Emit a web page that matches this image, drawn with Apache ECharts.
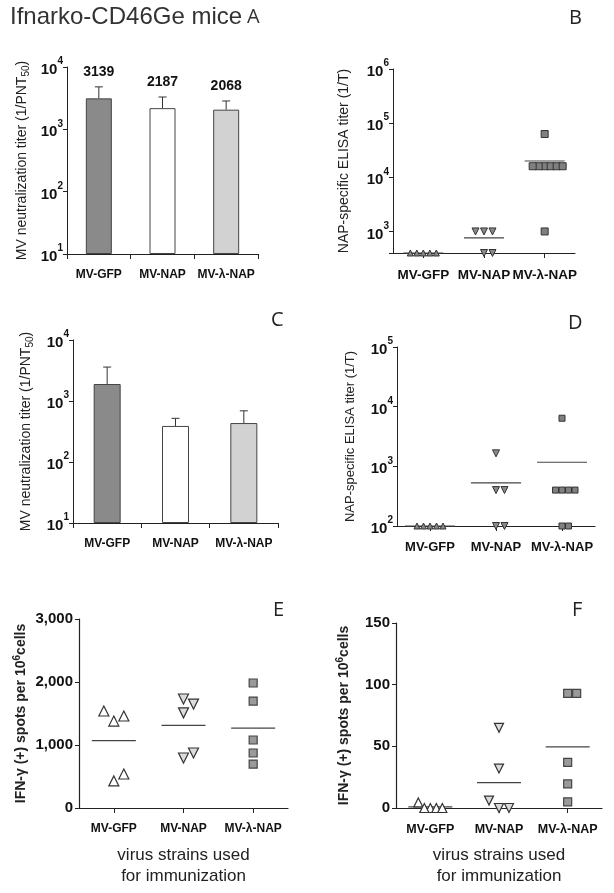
<!DOCTYPE html>
<html><head><meta charset="utf-8">
<script src="https://cdn.jsdelivr.net/npm/echarts@6/dist/echarts.min.js"></script>
<style>html,body{margin:0;padding:0;background:#fff}#c{width:614px;height:893px}</style>
</head><body><div id="c"></div>
<script>
// ---------- data ----------
const categories = ['MV-GFP', 'MV-NAP', 'MV-λ-NAP'];
// Panel A (bars, log axis)
const aBarValues = [3139, 2187, 2068];
const aErrorTop = [4800, 3300, 2850];
const aTickExponents = [1, 2, 3, 4];
// Panel C (bars, log axis)
const cBarValues = [1900, 390, 435];
const cErrorTop = [3600, 520, 690];
const cTickExponents = [1, 2, 3, 4];
// Panel B (scatter, log axis)
const bGFP = [400, 400, 400, 400, 400];
const bNAP = [1000, 1000, 1000, 400, 400];
const bLambda = [63000, 16000, 16000, 16000, 16000, 16000, 16000, 1000];
const bTickExponents = [3, 4, 5, 6];
const bAxisMin = 400;
// Panel D (scatter, log axis)
const dGFP = [100, 100, 100, 100, 100];
const dNAP = [1650, 400, 400, 100, 100];
const dLambda = [6400, 400, 400, 400, 400, 100, 100];
const dTickExponents = [2, 3, 4, 5];
// Panel E (scatter, linear)
const eGFP = [1460, 1380, 1540, 430, 540];
const eNAP = [1650, 1730, 1510, 794, 873];
const eLambda = [1984, 1698, 1079, 873, 698];
const eTicks = [0, 1000, 2000, 3000];
// Panel F (scatter, linear)
const fGFP = [4.5, 0, 0, 0, 0];
const fNAP = [65, 32, 6, 0, 0];
const fLambda = [93, 93, 37, 19.5, 5];
const fTicks = [0, 50, 100, 150];

// ---------- styling ----------
const FONT = 'Liberation Sans, Arial, sans-serif';
const AX = '#222';
const barColors = ['#8a8a8a', '#ffffff', '#d2d2d2'];

const chart = echarts.init(document.getElementById('c'), null, {renderer: 'canvas'});

function logLabel(size, sup) {
  return {
    margin: 4,
    formatter: v => {
      const l = Math.log10(v), e = Math.round(l);
      if (Math.abs(l - e) > 1e-6) return '';
      return '{b|10}{s|' + e + '}';
    },
    rich: {
      b: {fontSize: size, fontWeight: 'bold', fontFamily: FONT, color: '#111', lineHeight: size + 6, verticalAlign: 'bottom'},
      s: {fontSize: sup, fontWeight: 'bold', fontFamily: FONT, color: '#111', lineHeight: sup + 2, verticalAlign: 'top'}
    }
  };
}
function nameStyle(size, bold) {
  const w = bold ? 'bold' : 'normal';
  return {
    rich: {
      n: {fontSize: size, fontWeight: w, fontFamily: FONT, color: '#222', lineHeight: size + 4, verticalAlign: 'middle'},
      sub: {fontSize: size - 4, fontWeight: w, fontFamily: FONT, color: '#222', verticalAlign: 'bottom', lineHeight: size + 2},
      sup: {fontSize: size - 4, fontWeight: w, fontFamily: FONT, color: '#222', verticalAlign: 'top', lineHeight: size + 2}
    }
  };
}
function yLog(grid, exps, min, name, nameGap, nameSize, labelSize) {
  return {
    type: 'log', logBase: 10, gridIndex: grid,
    min: min != null ? min : Math.pow(10, exps[0]), max: Math.pow(10, exps[exps.length - 1]),
    startValue: min != null ? min : Math.pow(10, exps[0]),
    name, nameLocation: 'middle', nameGap, nameRotate: 90, nameTextStyle: nameStyle(nameSize, false),
    axisLine: {show: true, onZero: false, lineStyle: {color: AX, width: 1}},
    axisTick: {show: true, length: 4, lineStyle: {color: AX}},
    minorTick: {show: false}, splitLine: {show: false},
    axisLabel: logLabel(labelSize, 10)
  };
}
function yLin(grid, ticks, name, nameGap) {
  return {
    type: 'value', gridIndex: grid, min: ticks[0], max: ticks[ticks.length - 1], interval: ticks[1] - ticks[0],
    name, nameLocation: 'middle', nameGap, nameRotate: 90, nameTextStyle: nameStyle(14, true),
    axisLine: {show: true, onZero: false, lineStyle: {color: AX, width: 1.2}},
    axisTick: {show: true, length: 4, lineStyle: {color: AX}},
    splitLine: {show: false},
    axisLabel: {margin: 6, fontSize: 15, fontWeight: 'bold', fontFamily: FONT, color: '#111',
      formatter: v => v.toLocaleString('en-US')}
  };
}
function xCat(grid, fontSize, align, withName) {
  const ax = {
    type: 'category', gridIndex: grid, data: categories, boundaryGap: true,
    axisLine: {show: true, onZero: false, lineStyle: {color: AX, width: 1.2}},
    axisTick: {show: true, alignWithLabel: align, length: 5, interval: 0, lineStyle: {color: AX}},
    axisLabel: {fontSize, fontWeight: 'bold', fontFamily: FONT, color: '#111', margin: 15, interval: 0},
    splitLine: {show: false}
  };
  if (withName) {
    ax.name = 'virus strains used\nfor immunization';
    ax.nameLocation = 'middle';
    ax.nameGap = 37;
    ax.nameTextStyle = {fontSize: 17, fontFamily: FONT, color: '#222', lineHeight: 21};
  }
  return ax;
}
function barSeries(grid, values, width) {
  return {
    type: 'bar', xAxisIndex: grid, yAxisIndex: grid, barWidth: width, clip: true, z: 2,
    data: values.map((v, i) => ({value: v, itemStyle: {color: barColors[i]}})),
    itemStyle: {borderColor: '#444', borderWidth: 1}
  };
}
function errSeries(grid, values, tops, labels) {
  return {
    type: 'custom', xAxisIndex: grid, yAxisIndex: grid, z: 1, silent: true,
    data: values.map((v, i) => [i, v, tops[i]]),
    renderItem: (params, api) => {
      const b = api.coord([api.value(0), api.value(1)]);
      const t = api.coord([api.value(0), api.value(2)]);
      const ch = [
        {type: 'line', shape: {x1: b[0], y1: b[1], x2: t[0], y2: t[1]}, style: {stroke: '#333', lineWidth: 1}},
        {type: 'line', shape: {x1: t[0] - 4, y1: t[1], x2: t[0] + 4, y2: t[1]}, style: {stroke: '#333', lineWidth: 1}}
      ];
      if (labels) ch.push({type: 'text', x: t[0], y: t[1] - 15,
        style: {text: String(values[params.dataIndex]), font: 'bold 14px Liberation Sans', fill: '#111', align: 'center', verticalAlign: 'middle'}});
      return {type: 'group', children: ch};
    }
  };
}
function meanSeries(grid, groups, hw) {
  return {
    type: 'custom', xAxisIndex: grid, yAxisIndex: grid, z: 1, silent: true,
    data: groups.map((g, i) => [i, g.reduce((a, b) => a + b, 0) / g.length]),
    renderItem: (params, api) => {
      const c = api.coord([api.value(0), api.value(1)]);
      return {type: 'line', shape: {x1: c[0] - hw, y1: c[1], x2: c[0] + hw, y2: c[1]}, style: {stroke: '#444', lineWidth: 1.2}};
    }
  };
}
const swarmSpecs = [];
function scatter(id, grid, ci, values, symbol, size, style, rotate, d) {
  swarmSpecs.push({id, grid, ci, values, d, h: size + 1.5});
  return {
    id, type: 'scatter', xAxisIndex: grid, yAxisIndex: grid, z: 3, symbol, symbolSize: size, symbolRotate: rotate || 0,
    itemStyle: style, data: values.map(v => ({value: [ci, v]}))
  };
}
const darkTri = {color: '#8a8a8a', borderColor: '#333', borderWidth: 1, opacity: 1};
const darkSq = {color: '#808080', borderColor: '#333', borderWidth: 1, opacity: 1};
const openTri = {color: '#ffffff', borderColor: '#333', borderWidth: 1.2, opacity: 1};
const lightTri = {color: '#dcdcdc', borderColor: '#333', borderWidth: 1.2, opacity: 1};
const graySq = {color: '#9a9a9a', borderColor: '#444', borderWidth: 1.2, opacity: 1};

const letterStyle = {fontSize: 20, fontFamily: 'Open Sans', fontWeight: 'normal', color: '#222'};

const option = {
  animation: false,
  backgroundColor: '#fff',
  title: [
    {text: '{t|Ifnarko-CD46Ge mice} {l|A}', left: 10, top: 5, padding: 0,
      textStyle: {fontWeight: 'normal', rich: {
        t: {fontSize: 24, fontWeight: 'normal', fontFamily: FONT, color: '#333'},
        l: {fontSize: 20, fontWeight: 'normal', fontFamily: 'Open Sans', color: '#333'}}}},
    {text: 'B', left: 569, top: 8, padding: 0, textStyle: letterStyle},
    {text: 'C', left: 271, top: 310, padding: 0, textStyle: letterStyle},
    {text: 'D', left: 568, top: 313, padding: 0, textStyle: letterStyle},
    {text: 'E', left: 273, top: 600, padding: 0, textStyle: letterStyle},
    {text: 'F', left: 572, top: 600, padding: 0, textStyle: letterStyle}
  ],
  grid: [
    {left: 67, top: 67, width: 191, height: 187, outerBoundsMode: 'none'},
    {left: 393, top: 69, width: 182, height: 184, outerBoundsMode: 'none'},
    {left: 73, top: 340, width: 205, height: 183, outerBoundsMode: 'none'},
    {left: 397, top: 347, width: 198, height: 179, outerBoundsMode: 'none'},
    {left: 79, top: 619, width: 209, height: 189, outerBoundsMode: 'none'},
    {left: 396, top: 623, width: 206, height: 185, outerBoundsMode: 'none'}
  ],
  xAxis: [
    xCat(0, 12, false, false),
    xCat(1, 13.5, true, false),
    xCat(2, 12, false, false),
    xCat(3, 13, true, false),
    xCat(4, 12, true, true),
    xCat(5, 12.5, true, true)
  ],
  yAxis: [
    yLog(0, aTickExponents, null, '{n|MV neutralization titer (1/PNT}{sub|50}{n|)}', 36, 14, 15),
    yLog(1, bTickExponents, bAxisMin, '{n|NAP-specific ELISA titer (1/T)}', 40, 14, 15),
    yLog(2, cTickExponents, null, '{n|MV neutralization titer (1/PNT}{sub|50}{n|)}', 38, 14, 15),
    yLog(3, dTickExponents, null, '{n|NAP-specific ELISA titer (1/T)}', 38, 13, 15),
    yLin(4, eTicks, '{n|IFN-γ (+) spots per 10}{sup|6}{n|cells}', 49),
    yLin(5, fTicks, '{n|IFN-γ (+) spots per 10}{sup|6}{n|cells}', 43)
  ],
  series: [
    barSeries(0, aBarValues, 26), errSeries(0, aBarValues, aErrorTop, true),
    barSeries(2, cBarValues, 27), errSeries(2, cBarValues, cErrorTop, false),
    meanSeries(1, [bGFP, bNAP, bLambda], 20),
    scatter('bG', 1, 0, bGFP, 'triangle', 6, darkTri, 0, 6.5),
    scatter('bN', 1, 1, bNAP, 'triangle', 7, darkTri, 180, 8.5),
    scatter('bL', 1, 2, bLambda, 'rect', 7, darkSq, 0, 6),
    meanSeries(3, [dGFP, dNAP, dLambda], 25),
    scatter('dG', 3, 0, dGFP, 'triangle', 6, darkTri, 0, 6.5),
    scatter('dN', 3, 1, dNAP, 'triangle', 7, darkTri, 180, 8.5),
    scatter('dL', 3, 2, dLambda, 'rect', 6, darkSq, 0, 6.5),
    meanSeries(4, [eGFP, eNAP, eLambda], 22),
    scatter('eG', 4, 0, eGFP, 'triangle', 10, openTri, 0, 10),
    scatter('eN', 4, 1, eNAP, 'triangle', 10, lightTri, 180, 10),
    scatter('eL', 4, 2, eLambda, 'rect', 8, graySq, 0, 10),
    meanSeries(5, [fGFP, fNAP, fLambda], 22),
    scatter('fG', 5, 0, fGFP, 'triangle', 9, openTri, 0, 6),
    scatter('fN', 5, 1, fNAP, 'triangle', 9, lightTri, 180, 10),
    scatter('fL', 5, 2, fLambda, 'rect', 8, graySq, 0, 9)
  ]
};
chart.setOption(option);

// beeswarm-style horizontal spreading of overlapping points (computed from the axis scales)
function swarm(ys, d, h) {
  const order = ys.map((y, i) => i).sort((a, b) => ys[b] - ys[a]);
  const placed = [];
  const off = new Array(ys.length).fill(0);
  order.forEach(i => {
    for (let k = 0; k < 60; k++) {
      const m = Math.ceil(k / 2);
      const cand = k === 0 ? 0 : (k % 2 === 1 ? m * d : -m * d);
      if (!placed.some(p => Math.abs(p.x - cand) < d * 0.9 && Math.abs(p.y - ys[i]) < h)) {
        off[i] = cand; placed.push({x: cand, y: ys[i]}); break;
      }
    }
  });
  return off;
}
const updates = swarmSpecs.map(s => {
  const ys = s.values.map(v => chart.convertToPixel({gridIndex: s.grid}, [s.ci, v])[1]);
  const off = swarm(ys, s.d, s.h);
  return {id: s.id, data: s.values.map((v, i) => ({value: [s.ci, v], symbolOffset: [off[i], 0]}))};
});
chart.setOption({series: updates});
</script>
</body></html>
